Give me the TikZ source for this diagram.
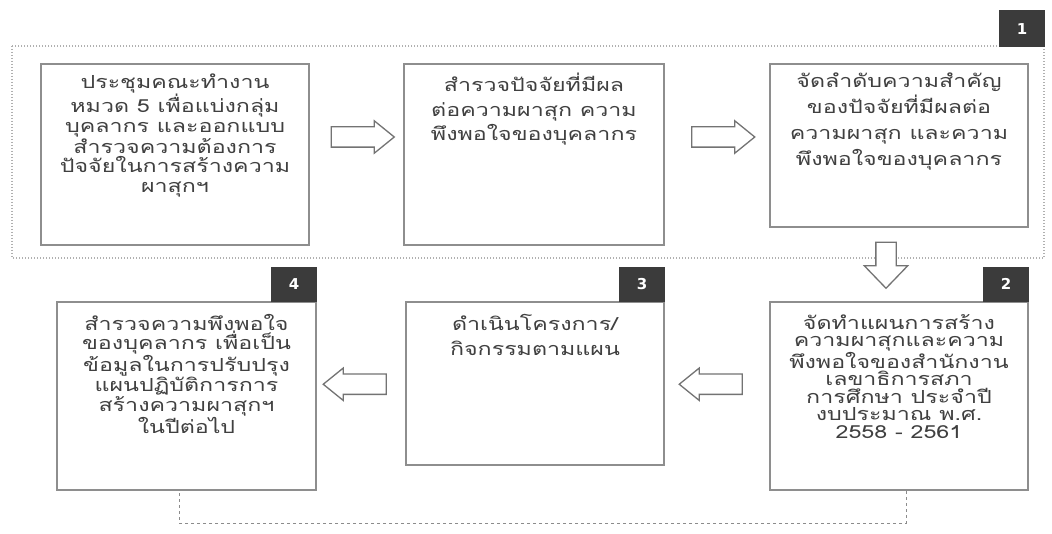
\documentclass[tikz,border=0pt]{standalone}
\usepackage{fontspec}
\setmainfont{DejaVu Sans}
\newfontfamily\thaifont[Script=Thai,FakeStretch=1.29]{Loma}
\usetikzlibrary{shapes.arrows,calc}
\definecolor{boxline}{HTML}{8E8E8E}
\definecolor{txt}{HTML}{404040}
\definecolor{badge}{HTML}{3B3B3B}
\definecolor{frameline}{HTML}{B0B0B0}
\tikzset{
  stepbox/.style={draw=boxline,line width=2.4pt,fill=white,rectangle,inner sep=0pt},
  steptext/.style={anchor=north,align=center,text=txt,inner sep=0pt},
  lines/.style={font=\thaifont\fontsize{18}{#1}\selectfont},
  numbadge/.style={fill=badge,text=white,inner sep=0pt,minimum width=46pt,minimum height=35pt,
    font=\bfseries\fontsize{15}{15}\selectfont},
  blockarrow/.style={single arrow,draw=black!55,line width=1.3pt,fill=white,
    text width=19pt,text height=9.5pt,text depth=9.5pt,
    minimum height=63pt,single arrow head extend=6pt,
    single arrow tip angle=78,inner sep=0pt},
  loopline/.style={draw=black!45,line width=1pt,dash pattern=on 3pt off 3pt},
  phaseframe/.style={draw=frameline,line width=1.4pt,dash pattern=on 1pt off 2pt}
}
\begin{document}
\begin{tikzpicture}[x=1pt,y=-1pt]
\useasboundingbox[fill=white] (0,0) rectangle (1052,534);

% phase 1 frame and its badge
\draw[phaseframe] (12,46) rectangle (1044,258);
\node[numbadge,minimum height=37pt] (n1) at (1022,29) {1};

% top row
\node[stepbox,minimum width=268pt,minimum height=181pt] (a) at (175,154.5) {};
\node[stepbox,minimum width=260pt,minimum height=181pt] (b) at (534,154.5) {};
\node[stepbox,minimum width=258pt,minimum height=163pt] (c) at (899,145.5) {};

\node[steptext,lines=19.5] (ta) at ([yshift=-11]a.north) {ประชุมคณะทำงาน\\หมวด 5 เพื่อแบ่งกลุ่ม\\บุคลากร และออกแบบ\\สำรวจความต้องการ\\ปัจจัยในการสร้างความ\\ผาสุกฯ};
\node[steptext,lines=24.5] (tb) at ([yshift=-10]b.north) {สำรวจปัจจัยที่มีผล\\ต่อความผาสุก ความ\\พึงพอใจของบุคลากร};
\node[steptext,lines=26] (tc) at ([yshift=-10]c.north) {จัดลำดับความสำคัญ\\ของปัจจัยที่มีผลต่อ\\ความผาสุก และความ\\พึงพอใจของบุคลากร};

% bottom row
\node[stepbox,minimum width=259pt,minimum height=188pt] (s4) at (186.5,396) {};
\node[stepbox,minimum width=258pt,minimum height=163pt] (s3) at (535,383.5) {};
\node[stepbox,minimum width=258pt,minimum height=188pt] (s2) at (899,396) {};

\node[numbadge,anchor=south east] (n4) at ([yshift=-1]s4.north east) {4};
\node[numbadge,anchor=south east] (n3) at ([yshift=-1]s3.north east) {3};
\node[numbadge,anchor=south east] (n2) at ([yshift=-1]s2.north east) {2};

\node[steptext,lines=18.5] (t4) at ([yshift=-13]s4.north) {สำรวจความพึงพอใจ\\ของบุคลากร เพื่อเป็น\\ข้อมูลในการปรับปรุง\\แผนปฏิบัติการการ\\สร้างความผาสุกฯ\\ในปีต่อไป};
\node[steptext,lines=25] (t3) at ([yshift=-13]s3.north) {ดำเนินโครงการ/\\กิจกรรมตามแผน};
\node[steptext,lines=17.5] (t2) at ([yshift=-13]s2.north) {จัดทำแผนการสร้าง\\ความผาสุกและความ\\พึงพอใจของสำนักงาน\\เลขาธิการสภา\\การศึกษา ประจำปี\\งบประมาณ พ.ศ.\\2558 - 2561};

% flow arrows
\node[blockarrow] (ab) at ($(a.east)!0.5!(b.west)+(0,-17.5)$) {};
\node[blockarrow] (bc) at ($(b.east)!0.5!(c.west)+(0,-13)$) {};
\node[blockarrow,shape border rotate=270,minimum height=46pt,
  single arrow head extend=11.5pt,single arrow tip angle=88] (c2) at (886,260) {};
\node[blockarrow,shape border rotate=180] (23) at ($(s3.east)!0.5!(s2.west)+(0,-5.5)$) {};
\node[blockarrow,shape border rotate=180] (34) at ($(s4.east)!0.5!(s3.west)+(0,-5.5)$) {};

% feedback loop from step 2 back to step 4
\draw[loopline] ([xshift=7]s2.south) -- ++(0,32) -| ([xshift=-7]s4.south);
\end{tikzpicture}
\end{document}
